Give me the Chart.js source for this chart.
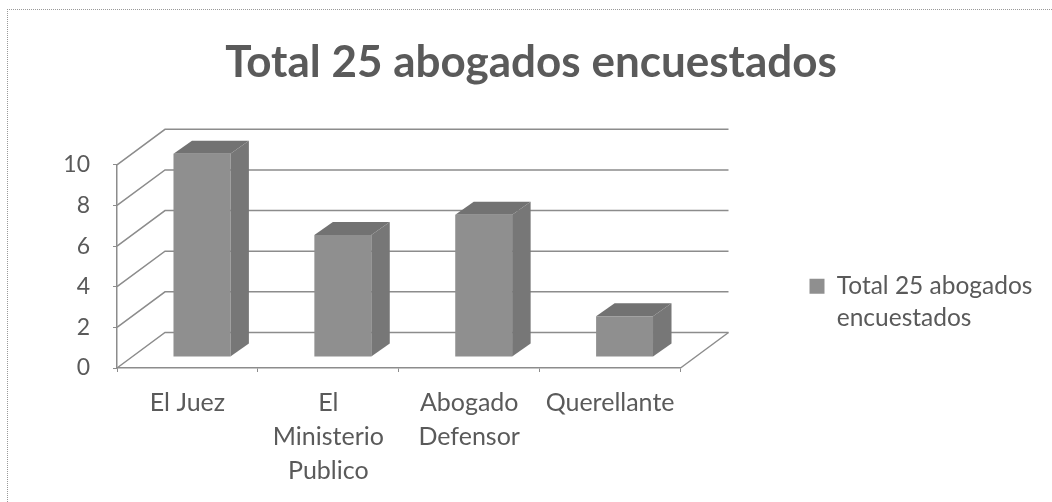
<!DOCTYPE html>
<html>
<head>
<meta charset="utf-8">
<script src="https://cdn.jsdelivr.net/npm/chart.js@4/dist/chart.umd.min.js"></script>
<style>
  html, body { margin: 0; padding: 0; background: #fff; overflow: hidden; }
  #wrap { position: relative; width: 1052px; height: 502px; }
  #frame { position: absolute; left: 7px; top: 9px; right: 0; bottom: 0; border-left: 1px dotted #999; border-top: 1px dotted #999; pointer-events: none; }
</style>
</head>
<body>
<div id="wrap">
  <canvas id="abogados" width="1052" height="502"></canvas>
  <div id="frame"></div>
</div>
<script>
const categories = ['El Juez', ['El', 'Ministerio', 'Publico'], ['Abogado', 'Defensor'], 'Querellante'];
const values = [10, 6, 7, 2];
const seriesName = 'Total 25 abogados encuestados';
const legendLines = ['Total 25 abogados', 'encuestados'];

const fontFamily = 'Lato';
const textColor = '#5a5a5a';
const lineColor = '#8c8c8c';

// fake 3D: back wall offset, bar offset from the front axis, bar depth
const wall = { dx: 48, dy: -35.5 };
const barShift = { dx: 14.5, dy: -11 };
const barDepth = { dx: 18.5, dy: -13 };

const walls3d = {
  id: 'walls3d',
  afterLayout(chart) {
    // legend and title sit outside the padded plot column
    chart.legend.left += 123;
    chart.legend.right += 163;
    chart.legend.top += 55;
    chart.legend.bottom += 55;
    chart.titleBlock.left += 74;
    chart.titleBlock.right += 74;
  },
  beforeDatasetsDraw(chart) {
    const { ctx, chartArea: a, scales: { y } } = chart;
    ctx.save();
    ctx.strokeStyle = lineColor;
    ctx.lineWidth = 1.5;
    y.ticks.forEach(t => {
      const py = y.getPixelForValue(t.value);
      ctx.beginPath();
      ctx.moveTo(a.left, py);
      ctx.lineTo(a.left + wall.dx, py + wall.dy);
      ctx.lineTo(a.right + wall.dx, py + wall.dy);
      ctx.stroke();
    });
    ctx.beginPath();
    ctx.moveTo(a.right, a.bottom);
    ctx.lineTo(a.right + wall.dx, a.bottom + wall.dy);
    ctx.stroke();
    ctx.restore();
  },
  beforeDatasetDraw(chart, args) {
    const { ctx } = chart;
    chart.getDatasetMeta(args.index).data.forEach(bar => {
      const p = bar.getProps(['x', 'y', 'base', 'width']);
      const l = p.x - p.width / 2 + barShift.dx;
      const r = p.x + p.width / 2 + barShift.dx;
      const t = p.y + barShift.dy;
      const b = p.base + barShift.dy;
      ctx.fillStyle = '#777777';
      ctx.beginPath();
      ctx.moveTo(r, t);
      ctx.lineTo(r + barDepth.dx, t + barDepth.dy);
      ctx.lineTo(r + barDepth.dx, b + barDepth.dy);
      ctx.lineTo(r, b);
      ctx.closePath();
      ctx.fill();
      ctx.fillStyle = '#727272';
      ctx.beginPath();
      ctx.moveTo(l, t);
      ctx.lineTo(l + barDepth.dx, t + barDepth.dy);
      ctx.lineTo(r + barDepth.dx, t + barDepth.dy);
      ctx.lineTo(r, t);
      ctx.closePath();
      ctx.fill();
    });
    ctx.save();
    ctx.translate(barShift.dx, barShift.dy);
  },
  afterDatasetDraw(chart) {
    chart.ctx.restore();
  }
};

new Chart(document.getElementById('abogados'), {
  type: 'bar',
  plugins: [walls3d],
  data: {
    labels: categories,
    datasets: [
      {
        label: seriesName,
        data: values,
        backgroundColor: '#8f8f8f',
        categoryPercentage: 1,
        barPercentage: 0.404,
        clip: false,
      }
    ]
  },
  options: {
    responsive: false,
    animation: false,
    layout: {
      padding: { left: 10, right: 148, top: 0, bottom: 0 },
    },
    plugins: {
      tooltip: { enabled: false },
      title: {
        display: true,
        text: seriesName,
        color: textColor,
        font: { family: fontFamily, size: 44, weight: 'bold' },
        padding: { top: 36, bottom: 76 },
      },
      legend: {
        position: 'right',
        labels: {
          font: { family: fontFamily, size: 24.5, lineHeight: 1.31 },
          boxWidth: 15,
          boxHeight: 15,
          padding: 6,
          generateLabels: () => [{
            text: legendLines,
            fontColor: textColor,
            fillStyle: '#8f8f8f',
            strokeStyle: '#8f8f8f',
            lineWidth: 0,
            hidden: false,
            datasetIndex: 0,
          }],
        },
      },
    },
    scales: {
      x: {
        afterFit: axis => { axis.height = 134; },
        grid: { drawOnChartArea: false, offset: true, color: lineColor, tickLength: 4 },
        border: { color: lineColor, width: 1.5 },
        ticks: {
          color: textColor,
          autoSkip: false,
          maxRotation: 0,
          padding: 14,
          font: { family: fontFamily, size: 25, lineHeight: 1.36 },
        },
      },
      y: {
        min: 0,
        max: 10,
        afterFit: axis => { axis.width = 107; },
        grid: { drawOnChartArea: false, color: lineColor, tickLength: 4 },
        border: { color: lineColor, width: 1.5 },
        ticks: {
          stepSize: 2,
          color: textColor,
          padding: 23,
          font: { family: fontFamily, size: 23 },
        },
      },
    },
  },
});
</script>
</body>
</html>
